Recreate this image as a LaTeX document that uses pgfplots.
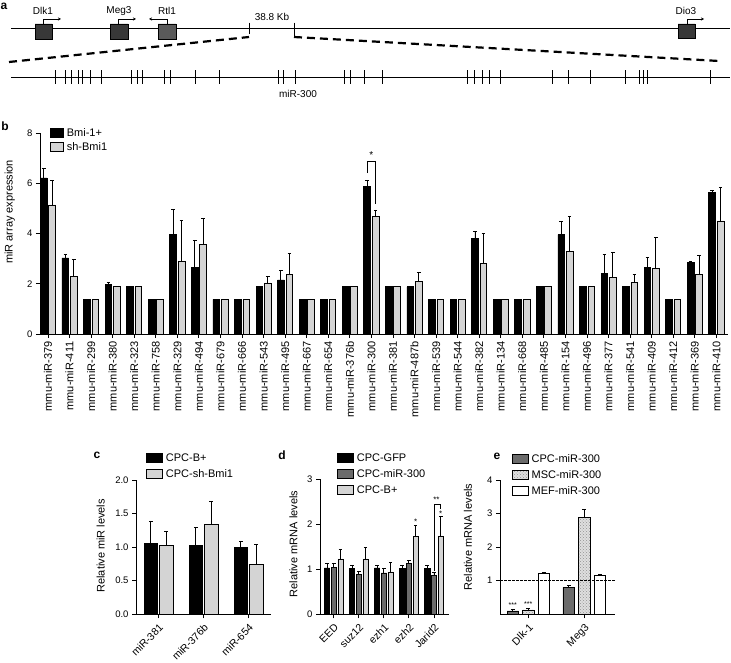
\documentclass[border=0pt]{standalone}
\usepackage{pgfplots}
\pgfplotsset{compat=1.18}
\usepackage{pgfplotstable}
\usepackage{fontspec}
\setmainfont{Liberation Sans}
\usetikzlibrary{arrows.meta,patterns}
\definecolor{lgray}{HTML}{D4D4D4}
\definecolor{mgray}{HTML}{6B6B6B}
\definecolor{boxdark}{HTML}{383838}
\definecolor{boxmid}{HTML}{5A5A5A}
\newcommand{\fs}[1]{\fontsize{#1}{#1}\selectfont}

\pgfplotstableread{
x a ea b eb
0 6.21 0.39 5.14 0.96
1 3.03 0.14 2.30 0.65
2 1.38 0 1.38 0
3 1.97 0.08 1.88 0
4 1.88 0 1.88 0
5 1.38 0 1.38 0
6 3.97 0.98 2.88 1.65
7 2.66 1.07 3.55 1.05
8 1.38 0 1.38 0
9 1.38 0 1.38 0
10 1.88 0 2.03 0.26
11 2.15 0.39 2.36 0.84
12 1.38 0 1.38 0
13 1.38 0 1.38 0
14 1.88 0 1.88 0
15 5.89 0.21 4.69 0.21
16 1.88 0 1.88 0
17 1.88 0 2.09 0.37
18 1.38 0 1.38 0
19 1.38 0 1.38 0
20 3.79 0.31 2.82 1.18
21 1.38 0 1.38 0
22 1.38 0 1.38 0
23 1.88 0 1.88 0
24 3.96 0.52 3.27 1.42
25 1.88 0 1.88 0
26 2.41 0.76 2.26 1.00
27 1.88 0 2.05 0.31
28 2.66 0.40 2.62 1.23
29 1.38 0 1.38 0
30 2.86 0.02 2.36 0.77
31 5.63 0.09 4.50 1.34
}\datab

\pgfplotstableread{
x a ea b eb
0 1.05 0.34 1.03 0.20
1 1.03 0.26 1.34 0.34
2 1.00 0.08 0.74 0.30
}\datac

\pgfplotstableread{
x a ea b eb c ec
0 1.03 0.09 1.04 0.09 1.23 0.20
1 1.02 0.07 0.89 0.06 1.23 0.26
2 1.03 0.06 0.92 0.10 0.94 0.21
3 1.02 0.07 1.13 0.06 1.72 0.25
4 1.02 0.07 0.87 0.05 1.74 0.43
}\datad

\pgfplotstableread{
x a ea b eb c ec
0 0.10 0.03 0.13 0.05 1.22 0.03
1 0.80 0.05 2.89 0.24 1.15 0.03
}\datae

\pgfplotsset{
  panel/.style={
    scale only axis, anchor=south west,
    axis x line*=bottom, axis y line*=left,
    axis line style={line width=0.9pt, black},
    tick style={line width=0.9pt, black},
    tick align=outside, major tick length=4pt,
    /pgf/number format/assume math mode=true,
    tick label style={font=\fs{9.5}},
    label style={font=\fs{11}},
    clip=false,
    legend cell align=left,
    legend style={draw=none, fill=none, font=\fs{11}, inner sep=0pt, row sep=0pt,
      nodes={inner xsep=3pt, inner ysep=0pt, minimum height=16pt}},
    legend image code/.code={\draw[##1] (0pt,-4.5pt) rectangle (16pt,4.5pt);},
  },
  eb/.style={error bars/.cd, y dir=plus, y explicit,
    error bar style={line width=0.9pt, black},
    error mark options={rotate=90, mark size=1.8pt, line width=0.9pt, black}},
}

\begin{document}
\begin{tikzpicture}
\useasboundingbox (0pt,0pt) rectangle (731pt,662pt);

% ---------------- panel a ----------------
\begin{axis}[at={(0pt,552pt)}, anchor=south west, scale only axis, width=731pt, height=110pt,
  xmin=0, xmax=731, ymin=0, ymax=110, y dir=reverse, hide axis, clip=false]
\addplot[black, line width=1.3pt] coordinates {(11,28.3)(730,28.3)};
\addplot[black, line width=1.3pt] coordinates {(11,77.7)(730,77.7)};
\addplot[fill=boxdark, draw=black, line width=0.5pt] coordinates {(35,24)(52,24)(52,39)(35,39)(35,24)};
\addplot[fill=boxdark, draw=black, line width=0.5pt] coordinates {(110,24)(128,24)(128,39)(110,39)(110,24)};
\addplot[fill=boxmid, draw=black, line width=0.5pt] coordinates {(158,24)(176,24)(176,39)(158,39)(158,24)};
\addplot[fill=boxdark, draw=black, line width=0.5pt] coordinates {(678,24)(695,24)(695,38)(678,38)(678,24)};
\addplot[black, line width=0.8pt, -{Stealth[length=3pt,width=3pt]}] coordinates {(43,24)(43,19)(61,19)};
\addplot[black, line width=0.8pt, -{Stealth[length=3pt,width=3pt]}] coordinates {(118,24)(118,19)(136,19)};
\addplot[black, line width=0.8pt, -{Stealth[length=3pt,width=3pt]}] coordinates {(167,24)(167,19)(149,19)};
\addplot[black, line width=0.8pt, -{Stealth[length=3pt,width=3pt]}] coordinates {(687,24)(687,19)(704,19)};
\addplot[black, line width=0.8pt] coordinates {(249,22.7)(249,34.5)};
\addplot[black, line width=0.8pt] coordinates {(294,22.7)(294,37.5)};
\addplot[black, line width=2.2pt, dash pattern=on 8pt off 5pt] coordinates {(9,62)(249,37)};
\addplot[black, line width=2.2pt, dash pattern=on 8pt off 5pt] coordinates {(294,37)(719,61)};
\addplot[black, line width=0.8pt, unbounded coords=jump] coordinates {
(55,70.5)(55,84.5)(nan,nan)(65.5,70.5)(65.5,84.5)(nan,nan)(71,70.5)(71,84.5)(nan,nan)
(78.5,70.5)(78.5,84.5)(nan,nan)(82.5,70.5)(82.5,84.5)(nan,nan)(90.5,70.5)(90.5,84.5)(nan,nan)
(101.7,70.5)(101.7,84.5)(nan,nan)(131.8,70.5)(131.8,84.5)(nan,nan)(137,70.5)(137,84.5)(nan,nan)
(142.8,70.5)(142.8,84.5)(nan,nan)(164.2,70.5)(164.2,84.5)(nan,nan)(170.1,70.5)(170.1,84.5)(nan,nan)
(195,70.5)(195,84.5)(nan,nan)(219.1,70.5)(219.1,84.5)(nan,nan)(278,70.5)(278,84.5)(nan,nan)
(283,70.5)(283,84.5)(nan,nan)(344,70.5)(344,84.5)(nan,nan)(350.7,70.5)(350.7,84.5)(nan,nan)
(364.7,70.5)(364.7,84.5)(nan,nan)(382.3,70.5)(382.3,84.5)(nan,nan)(467.6,70.5)(467.6,84.5)(nan,nan)
(474.3,70.5)(474.3,84.5)(nan,nan)(482.3,70.5)(482.3,84.5)(nan,nan)(489.4,70.5)(489.4,84.5)(nan,nan)
(500.4,70.5)(500.4,84.5)(nan,nan)(552.4,70.5)(552.4,84.5)(nan,nan)(568.6,70.5)(568.6,84.5)(nan,nan)
(590.5,70.5)(590.5,84.5)(nan,nan)(625.7,70.5)(625.7,84.5)(nan,nan)(639.4,70.5)(639.4,84.5)(nan,nan)
(643.7,70.5)(643.7,84.5)(nan,nan)(646.9,70.5)(646.9,84.5)(nan,nan)(710,70.5)(710,84.5)
};
\addplot[black, line width=1.5pt] coordinates {(295.5,70.5)(295.5,84.5)};
\node[font=\fs{10}] at (axis cs:43,11) {Dlk1};
\node[font=\fs{10}] at (axis cs:119,11) {Meg3};
\node[font=\fs{10}] at (axis cs:167,11) {Rtl1};
\node[font=\fs{10}] at (axis cs:686,11) {Dio3};
\node[font=\fs{10}] at (axis cs:272,17) {38.8 Kb};
\node[font=\fs{10}] at (axis cs:298,94) {miR-300};
\end{axis}

% panel letters
\node[font=\bfseries\fs{12}] at (4pt,656pt) {a};
\node[font=\bfseries\fs{12}] at (5pt,536pt) {b};
\node[font=\bfseries\fs{12}] at (97pt,207pt) {c};
\node[font=\bfseries\fs{12}] at (282pt,207pt) {d};
\node[font=\bfseries\fs{12}] at (497pt,206pt) {e};

% ---------------- panel b ----------------
\begin{axis}[panel, at={(40pt,328pt)}, width=688pt, height=201pt,
  xmin=-0.37, xmax=31.54, ymin=0, ymax=8,
  ytick={0,2,4,6,8},
  xtick={0,...,31},
  xticklabels={mmu-miR-379,mmu-miR-411,mmu-miR-299,mmu-miR-380,mmu-miR-323,mmu-miR-758,mmu-miR-329,mmu-miR-494,mmu-miR-679,mmu-miR-666,mmu-miR-543,mmu-miR-495,mmu-miR-667,mmu-miR-654,mmu-miR-376b,mmu-miR-300,mmu-miR-381,mmu-miR-487b,mmu-miR-539,mmu-miR-544,mmu-miR-382,mmu-miR-134,mmu-miR-668,mmu-miR-485,mmu-miR-154,mmu-miR-496,mmu-miR-377,mmu-miR-541,mmu-miR-409,mmu-miR-412,mmu-miR-369,mmu-miR-410},
  xticklabel style={rotate=90, anchor=east, font=\fs{11}},
  ylabel={miR array expression},
  ylabel style={at={(axis description cs:-0.044,0.607)}, anchor=center},
  legend style={at={(axis description cs:0.0145,1.037)}, anchor=north west,
     nodes={minimum height=14pt}},
  legend image code/.code={\draw[#1] (0pt,-4.5pt) rectangle (13pt,4.5pt);},
]
\addplot[ybar, bar width=6.7pt, bar shift=0pt, fill=black, draw=black, line width=0.7pt, eb]
  table[x expr=\thisrow{x}-0.195, y=a, y error=ea]{\datab};
\addplot[ybar, bar width=6.7pt, bar shift=0pt, fill=lgray, draw=black, line width=0.7pt, eb]
  table[x expr=\thisrow{x}+0.195, y=b, y error=eb]{\datab};
\legend{Bmi-1+, sh-Bmi1}
\addplot[black, line width=0.9pt] coordinates {(14.8,6.4)(14.8,6.85)(15.2,6.85)(15.2,5.17)};
\node[font=\fs{10}] at (axis cs:15.0,7.12) {*};
\end{axis}

% ---------------- panel c ----------------
\begin{axis}[panel, at={(136pt,47.7pt)}, width=135pt, height=134.3pt,
  xmin=-0.5, xmax=2.5, ymin=0, ymax=2,
  ytick={0,0.5,1,1.5,2},
  yticklabel style={/pgf/number format/.cd, fixed, fixed zerofill, precision=1},
  xtick={0,1,2}, xticklabels={miR-381, miR-376b, miR-654},
  xticklabel style={rotate=45, anchor=north east, font=\fs{10.5}},
  ylabel={Relative miR levels},
  ylabel style={at={(axis description cs:-0.262,0.51)}, anchor=center},
  legend style={at={(axis description cs:0.074,1.223)}, anchor=north west},
]
\addplot[ybar, bar width=13.5pt, bar shift=0pt, fill=black, draw=black, line width=0.7pt, eb]
  table[x expr=\thisrow{x}-0.171, y=a, y error=ea]{\datac};
\addplot[ybar, bar width=13.5pt, bar shift=0pt, fill=lgray, draw=black, line width=0.7pt, eb]
  table[x expr=\thisrow{x}+0.171, y=b, y error=eb]{\datac};
\legend{CPC-B+, CPC-sh-Bmi1}
\end{axis}

% ---------------- panel d ----------------
\begin{axis}[panel, at={(320pt,47.7pt)}, width=129pt, height=135.3pt,
  xmin=-0.55, xmax=4.6, ymin=0, ymax=3,
  ytick={0,1,2,3},
  xtick={0,1,2,3,4}, xticklabels={EED, suz12, ezh1, ezh2, Jarid2},
  xticklabel style={rotate=45, anchor=north east, font=\fs{10.5}},
  ylabel={Relative mRNA levels},
  ylabel style={at={(axis description cs:-0.205,0.52)}, anchor=center},
  legend style={at={(axis description cs:0.132,1.214)}, anchor=north west},
]
\addplot[ybar, bar width=5.3pt, bar shift=0pt, fill=black, draw=black, line width=0.6pt, eb]
  table[x expr=\thisrow{x}-0.27, y=a, y error=ea]{\datad};
\addplot[ybar, bar width=5.3pt, bar shift=0pt, fill=mgray, draw=black, line width=0.6pt, eb]
  table[x=x, y=b, y error=eb]{\datad};
\addplot[ybar, bar width=5.3pt, bar shift=0pt, fill=lgray, draw=black, line width=0.6pt, eb]
  table[x expr=\thisrow{x}+0.27, y=c, y error=ec]{\datad};
\legend{CPC-GFP, CPC-miR-300, CPC-B+}
\addplot[black, line width=0.8pt] coordinates {(4,0.97)(4,2.44)(4.27,2.44)(4.27,2.33)};
\node[font=\fs{8}] at (axis cs:4.1,2.55) {**};
\node[font=\fs{8}] at (axis cs:4.27,2.24) {*};
\node[font=\fs{8}] at (axis cs:3.27,2.06) {*};
\end{axis}

% ---------------- panel e ----------------
\begin{axis}[panel, at={(500pt,47.7pt)}, width=115pt, height=134.3pt,
  xmin=-0.505, xmax=1.55, ymin=0, ymax=4,
  ytick={1,2,3,4},
  xtick={0,1}, xticklabels={Dlk-1, Meg3},
  xticklabel style={rotate=45, anchor=north east, font=\fs{10.5}},
  ylabel={Relative mRNA levels},
  ylabel style={at={(axis description cs:-0.278,0.575)}, anchor=center},
  legend style={at={(axis description cs:0.102,1.216)}, anchor=north west},
]
\addplot[ybar, bar width=11.5pt, bar shift=0pt, fill=mgray, draw=black, line width=0.7pt, eb]
  table[x expr=\thisrow{x}-0.277, y=a, y error=ea]{\datae};
\addplot[ybar, bar width=11.5pt, bar shift=0pt, fill=gray!25, postaction={pattern=crosshatch dots, pattern color=gray!85}, draw=black, line width=0.7pt, eb]
  table[x=x, y=b, y error=eb]{\datae};
\addplot[ybar, bar width=11.5pt, bar shift=0pt, fill=white, draw=black, line width=0.7pt, eb]
  table[x expr=\thisrow{x}+0.277, y=c, y error=ec]{\datae};
\legend{CPC-miR-300, MSC-miR-300, MEF-miR-300}
\addplot[black, line width=0.9pt, dash pattern=on 2.5pt off 1.5pt] coordinates {(-0.505,1)(1.55,1)};
\node[font=\fs{7}] at (axis cs:-0.277,0.27) {***};
\node[font=\fs{7}] at (axis cs:0,0.3) {***};
\end{axis}
\end{tikzpicture}
\end{document}
